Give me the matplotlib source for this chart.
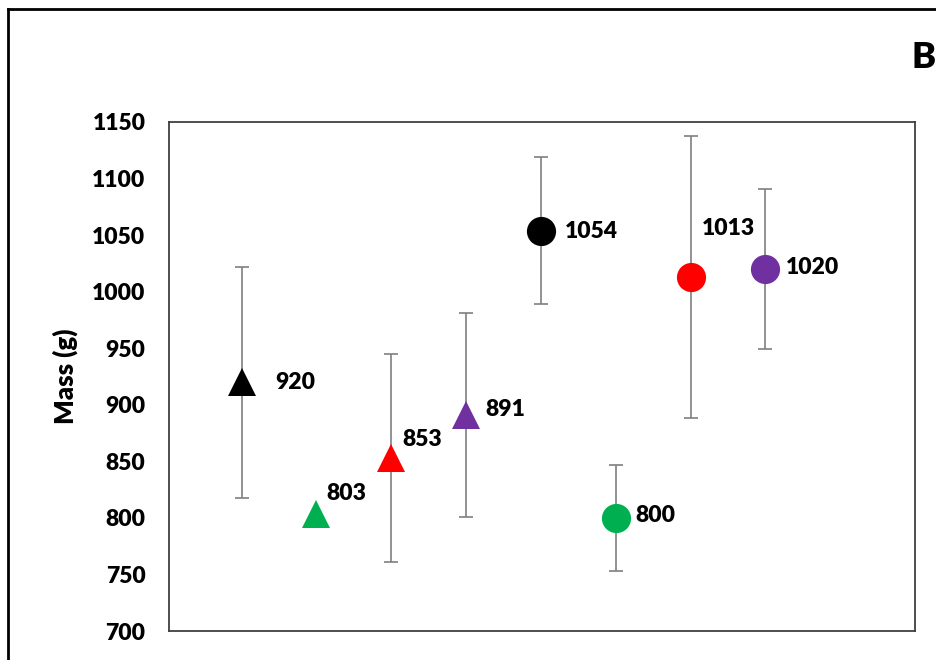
"""Mean body mass per group with SD error bars (panel B)."""

import matplotlib
matplotlib.use("Agg")
import matplotlib.pyplot as plt
from matplotlib.lines import Line2D

# ── Data ──────────────────────────────────────────────────────────────────────

positions = [1, 2, 3, 4, 5, 6, 7, 8]
mass_mean = [920, 803, 853, 891, 1054, 800, 1013, 1020]
mass_sd = [102, 0, 92, 90, 65, 47, 125, 71]
markers = ["^", "^", "^", "^", "o", "o", "o", "o"]
colors = ["#000000", "#00B050", "#FF0000", "#7030A0",
          "#000000", "#00B050", "#FF0000", "#7030A0"]
# value label offsets (points) relative to each marker
label_offsets = [(24, 0), (7, 15), (8, 13), (14, 4),
                 (17, -1), (14, 2), (8, 35), (15, 1)]

yticks = [700, 750, 800, 850, 900, 950, 1000, 1050, 1100, 1150]

FONT = ["Lato", "DejaVu Sans"]
plt.rcParams["font.family"] = FONT

fig = plt.figure(figsize=(9.36, 6.6), dpi=100)
ax = fig.add_axes([169 / 936, 29 / 660, 746 / 936, 509 / 660])

for x, y, sd, m, c in zip(positions, mass_mean, mass_sd, markers, colors):
    if sd:
        ax.errorbar(x, y, yerr=sd, fmt="none", ecolor="#7f7f7f",
                    elinewidth=1.2, capsize=5, capthick=1.2, zorder=2)
    ms = 20 if m == "^" else 21
    ax.plot(x, y, marker=m, color=c, markersize=ms, linestyle="none",
            markeredgewidth=0, zorder=3)

for x, y, (dx, dy) in zip(positions, mass_mean, label_offsets):
    ax.annotate(f"{y}", (x, y), xytext=(dx, dy), textcoords="offset points",
                ha="left", va="center", fontsize=16.5, fontweight="heavy")

ax.set_xlim(0.03, 10)
ax.set_ylim(700, 1150)
ax.set_yticks(yticks)
ax.set_xticks([])
ax.tick_params(axis="y", length=0, pad=17)
for lbl in ax.get_yticklabels():
    lbl.set_fontsize(16.5)
    lbl.set_fontweight("heavy")
ax.set_ylabel("Mass (g)", labelpad=10)
ax.yaxis.label.set_fontsize(18.5)
ax.yaxis.label.set_fontweight("heavy")

for spine in ax.spines.values():
    spine.set_color("#404040")
    spine.set_linewidth(1.3)

# outer panel frame and panel letter
fig.add_artist(Line2D([8 / 936, 8 / 936], [0, 1 - 9 / 660],
                      transform=fig.transFigure, color="black", lw=2))
fig.add_artist(Line2D([8 / 936, 1], [1 - 9 / 660, 1 - 9 / 660],
                      transform=fig.transFigure, color="black", lw=2))
fig.text(911 / 936, 1 - 58 / 660, "B", fontsize=26, fontweight="heavy",
         ha="left", va="center")

fig.savefig("out.png", dpi=100)
plt.close(fig)
